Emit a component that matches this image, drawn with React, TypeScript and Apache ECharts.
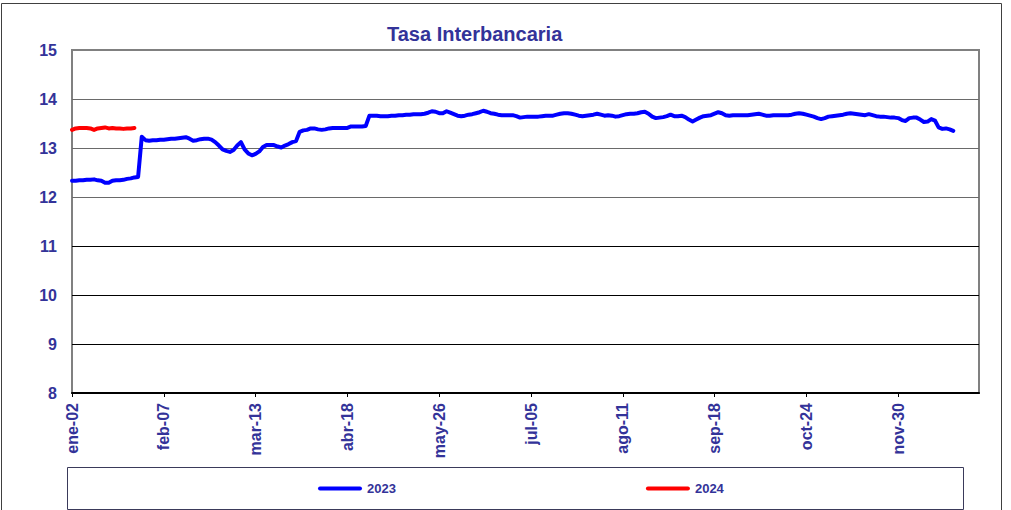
import React, { useEffect, useRef } from "react";
import * as echarts from "echarts";

const titleText = "Tasa Interbancaria";
const tickLabels = ["ene-02", "feb-07", "mar-13", "abr-18", "may-26", "jul-05", "ago-11", "sep-18", "oct-24", "nov-30"];
const categoryCount = 248;
const labelEvery = 25;
const categories: string[] = Array.from({ length: categoryCount }, (_, i) =>
  i % labelEvery === 0 && tickLabels[i / labelEvery] ? tickLabels[i / labelEvery] : "d" + i
);

const series2023 = [
  12.33, 12.33, 12.34, 12.34, 12.35, 12.35, 12.36, 12.34, 12.33, 12.29,
  12.29, 12.33, 12.34, 12.34, 12.35, 12.37, 12.38, 12.40, 12.41, 13.23,
  13.16, 13.15, 13.16, 13.16, 13.17, 13.17, 13.18, 13.19, 13.19, 13.20,
  13.21, 13.22, 13.19, 13.15, 13.16, 13.18, 13.19, 13.19, 13.17, 13.12,
  13.05, 12.97, 12.94, 12.92, 12.96, 13.05, 13.12, 12.97, 12.89, 12.85,
  12.88, 12.93, 13.02, 13.06, 13.06, 13.06, 13.03, 13.01, 13.05, 13.08,
  13.12, 13.14, 13.33, 13.36, 13.37, 13.40, 13.40, 13.38, 13.37, 13.38,
  13.40, 13.41, 13.41, 13.41, 13.41, 13.41, 13.44, 13.44, 13.44, 13.44,
  13.45, 13.66, 13.66, 13.66, 13.65, 13.65, 13.65, 13.66, 13.66, 13.67,
  13.67, 13.68, 13.68, 13.69, 13.69, 13.69, 13.70, 13.72, 13.75, 13.74,
  13.71, 13.71, 13.75, 13.72, 13.69, 13.66, 13.65, 13.66, 13.68, 13.69,
  13.71, 13.73, 13.76, 13.74, 13.71, 13.70, 13.68, 13.67, 13.67, 13.67,
  13.67, 13.65, 13.62, 13.63, 13.64, 13.64, 13.64, 13.64, 13.65, 13.66,
  13.66, 13.66, 13.68, 13.70, 13.71, 13.71, 13.70, 13.68, 13.66, 13.65,
  13.66, 13.67, 13.68, 13.70, 13.68, 13.66, 13.67, 13.66, 13.64, 13.65,
  13.67, 13.69, 13.70, 13.70, 13.71, 13.73, 13.74, 13.70, 13.64, 13.61,
  13.62, 13.63, 13.65, 13.68, 13.65, 13.65, 13.66, 13.63, 13.58, 13.54,
  13.58, 13.62, 13.65, 13.66, 13.67, 13.70, 13.73, 13.71, 13.67, 13.66,
  13.67, 13.67, 13.67, 13.67, 13.67, 13.68, 13.69, 13.70, 13.68, 13.66,
  13.66, 13.67, 13.67, 13.67, 13.67, 13.67, 13.68, 13.70, 13.71, 13.70,
  13.68, 13.66, 13.64, 13.61, 13.59, 13.61, 13.64, 13.65, 13.66, 13.67,
  13.68, 13.70, 13.71, 13.70, 13.69, 13.68, 13.67, 13.69, 13.67, 13.65,
  13.64, 13.64, 13.63, 13.62, 13.62, 13.61, 13.57, 13.55, 13.61, 13.62,
  13.62, 13.58, 13.53, 13.54, 13.59, 13.56, 13.42, 13.39, 13.40, 13.38,
  13.35,
];

const series2024 = [
  13.37, 13.40, 13.41, 13.41, 13.41, 13.40, 13.37, 13.40, 13.41, 13.42,
  13.40, 13.41, 13.40, 13.40, 13.39, 13.40, 13.40, 13.41,
];

const yTicks = { min: 8, max: 15, interval: 1 };
const textColor = "#333399";
const fontFamily = "'Liberation Sans', Arial, sans-serif";
const pillIcon = "path://M2,0 L42,0 A2,2 0 0 1 42,4 L2,4 A2,2 0 0 1 2,0 Z";

export default function App() {
  const ref = useRef<HTMLDivElement>(null);
  useEffect(() => {
    if (!ref.current) return;
    const chart = echarts.init(ref.current, undefined, { renderer: "svg" });
    chart.setOption({
      animation: false,
      backgroundColor: "#ffffff",
      title: {
        text: titleText,
        left: 387,
        top: 24,
        padding: 0,
        textStyle: { color: textColor, fontSize: 20, fontWeight: "bold", fontFamily },
      },
      graphic: [
        {
          type: "rect",
          shape: { x: 1.5, y: 3.5, width: 1000, height: 520 },
          style: { fill: "none", stroke: "#404040", lineWidth: 1 },
          silent: true,
          z: -1,
        },
        {
          type: "rect",
          shape: { x: 67.5, y: 467.5, width: 896, height: 42 },
          style: { fill: "none", stroke: "#3a3a5a", lineWidth: 1 },
          silent: true,
          z: -1,
        },
      ],
      legend: {
        left: 318,
        top: 482,
        padding: 0,
        itemGap: 250,
        itemWidth: 44,
        itemHeight: 4,
        textStyle: { color: textColor, fontSize: 13, fontWeight: "bold", fontFamily },
        data: [
          { name: "2023", icon: pillIcon },
          { name: "2024", icon: pillIcon },
        ],
      },
      grid: {
        left: 72,
        right: 32,
        top: 50,
        bottom: 117,
        show: true,
        borderColor: "#808080",
        borderWidth: 2,
        containLabel: false,
      },
      xAxis: {
        type: "category",
        data: categories,
        boundaryGap: false,
        axisLine: { show: true, lineStyle: { color: "#000000", width: 2 } },
        axisTick: { show: true, interval: labelEvery - 1, length: 4, lineStyle: { color: "#000000", width: 1 } },
        axisLabel: {
          interval: labelEvery - 1,
          rotate: 90,
          margin: 10,
          color: textColor,
          fontSize: 16,
          fontWeight: "bold",
          fontFamily,
        },
        splitLine: { show: false },
      },
      yAxis: {
        type: "value",
        min: yTicks.min,
        max: yTicks.max,
        interval: yTicks.interval,
        axisLine: { show: false },
        axisTick: { show: false },
        axisLabel: {
          margin: 15,
          color: textColor,
          fontSize: 16,
          fontWeight: "bold",
          fontFamily,
        },
        splitLine: {
          show: true,
          lineStyle: {
            width: 1,
            color: ["transparent", "#000000", "#000000", "#000000", "#6a6a6a", "#6a6a6a", "#6a6a6a", "transparent"],
          },
        },
      },
      series: [
        {
          name: "2023",
          type: "line",
          data: series2023,
          symbol: "none",
          color: "#0000ff",
          lineStyle: { color: "#0000ff", width: 4, cap: "round", join: "round" },
          z: 3,
        },
        {
          name: "2024",
          type: "line",
          data: series2024,
          symbol: "none",
          color: "#ff0000",
          lineStyle: { color: "#ff0000", width: 4, cap: "round", join: "round" },
          z: 4,
        },
      ],
    });
    return () => chart.dispose();
  }, []);
  return <div ref={ref} style={{ position: "absolute", left: 0, top: 0, width: 1011, height: 510 }} />;
}
